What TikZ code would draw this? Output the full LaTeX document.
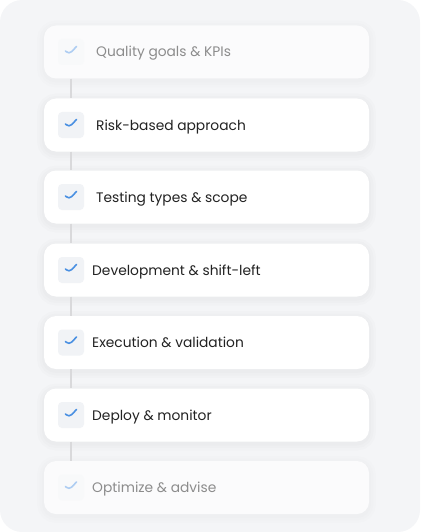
\documentclass[tikz,border=0pt]{standalone}
\usepackage{fontspec}
\setmainfont{Poppins}
\definecolor{panelbg}{HTML}{F4F5F7}
\definecolor{boxbg}{HTML}{F1F3F6}
\definecolor{checkblue}{HTML}{4A90E2}
\definecolor{textdark}{HTML}{222222}
\definecolor{textfade}{HTML}{8C8C8C}
\definecolor{linegray}{HTML}{D9D9DB}
\tikzset{
  glow/.style={preaction={draw=black, draw opacity=#1, line width=14pt, transform canvas={yshift=-2pt}},
    preaction={draw=black, draw opacity=#1, line width=9pt, transform canvas={yshift=-2pt}},
    preaction={draw=black, draw opacity=#1, line width=4pt, transform canvas={yshift=-2pt}}},
  card/.style={rectangle, rounded corners=12pt, fill=white, minimum width=325pt,
    minimum height=53pt, inner sep=0pt, glow=0.012},
  fadecard/.style={rectangle, rounded corners=12pt, fill=white!60!panelbg, minimum width=325pt,
    minimum height=53pt, inner sep=0pt, glow=0.006},
  tick/.style={rectangle, rounded corners=4pt, fill=boxbg, minimum size=26pt, inner sep=0pt,
    path picture={\draw[checkblue, line width=1.6pt, line cap=round, line join=round]
      ([shift={(-5.5pt,1pt)}]path picture bounding box.center) -- ++(3.5pt,-3.5pt) -- ++(7.5pt,8pt);}},
  fadetick/.style={tick, fill=boxbg!50!white, path picture={\draw[checkblue!45, line width=1.6pt, line cap=round, line join=round]
      ([shift={(-5.5pt,1pt)}]path picture bounding box.center) -- ++(3.5pt,-3.5pt) -- ++(7.5pt,8pt);}},
  label/.style={anchor=base west, inner sep=0pt, font=\fontsize{13.8}{16}\selectfont, text=textdark},
  fadelabel/.style={label, text=textfade},
  connector/.style={draw=linegray, line width=2.5pt}
}
\begin{document}
\begin{tikzpicture}[x=1pt,y=-1pt]
  \useasboundingbox (0,0) rectangle (420,532);
  \fill[panelbg] (0,0) [rounded corners=22pt] rectangle (420,532);
  % steps
  \node[fadecard] (card1) at (206.5,52) {};
  \node[card] (card2) at (206.5,125) {};
  \node[card] (card3) at (206.5,197) {};
  \node[card] (card4) at (206.5,270) {};
  \node[card] (card5) at (206.5,342.5) {};
  \node[card] (card6) at (206.5,415) {};
  \node[fadecard] (card7) at (206.5,487.5) {};
  \node[fadetick] (box1) at (71,52) {};
  \node[tick] (box2) at (71,125) {};
  \node[tick] (box3) at (71,197) {};
  \node[tick] (box4) at (71,270) {};
  \node[tick] (box5) at (71,342.5) {};
  \node[tick] (box6) at (71,415) {};
  \node[fadetick] (box7) at (71,487.5) {};
  \node[fadelabel] (text1) at (96,57) {Quality goals \& KPIs};
  \node[label] (text2) at (96,130) {Risk-based approach};
  \node[label] (text3) at (96,202) {Testing types \& scope};
  \node[label] (text4) at (92,275) {Development \& shift-left};
  \node[label] (text5) at (92,347.5) {Execution \& validation};
  \node[label] (text6) at (92,420) {Deploy \& monitor};
  \node[fadelabel] (text7) at (92,492.5) {Optimize \& advise};
  % timeline
  \draw[connector] (box1 |- card1.south) -- (box2 |- card2.north);
  \draw[connector] (box2 |- card2.south) -- (box3 |- card3.north);
  \draw[connector] (box3 |- card3.south) -- (box4 |- card4.north);
  \draw[connector] (box4 |- card4.south) -- (box5 |- card5.north);
  \draw[connector] (box5 |- card5.south) -- (box6 |- card6.north);
  \draw[connector] (box6 |- card6.south) -- (box7 |- card7.north);
\end{tikzpicture}
\end{document}
